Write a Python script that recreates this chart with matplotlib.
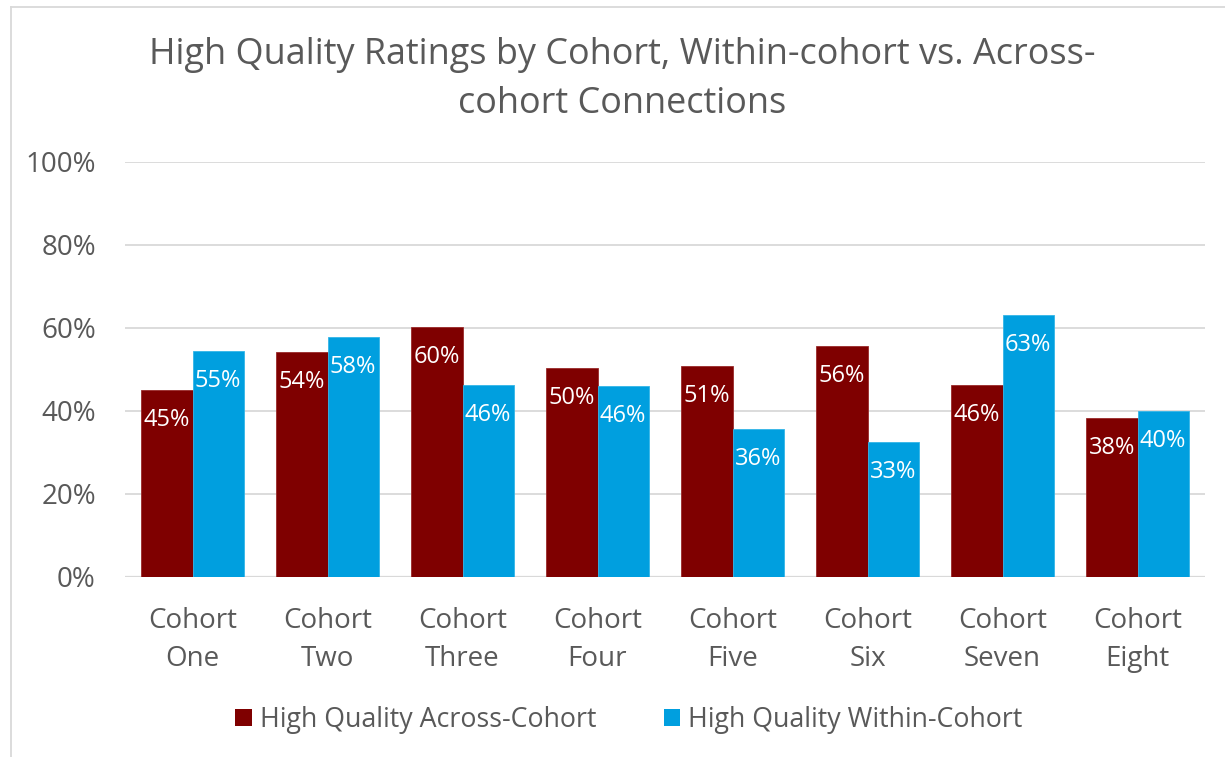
import matplotlib
matplotlib.use("Agg")
import matplotlib.pyplot as plt
from matplotlib.patches import Patch
from matplotlib.lines import Line2D
import numpy as np

plt.rcParams['font.family'] = ['Open Sans', 'DejaVu Sans']

categories = ["Cohort\nOne", "Cohort\nTwo", "Cohort\nThree", "Cohort\nFour",
              "Cohort\nFive", "Cohort\nSix", "Cohort\nSeven", "Cohort\nEight"]
across = [44.9, 54.1, 60.1, 50.3, 50.7, 55.6, 46.2, 38.3]
within = [54.5, 57.9, 46.2, 46.0, 35.6, 32.6, 63.0, 40.0]
across_labels = ["45%", "54%", "60%", "50%", "51%", "56%", "46%", "38%"]
within_labels = ["55%", "58%", "46%", "46%", "36%", "33%", "63%", "40%"]
series_names = ["High Quality Across-Cohort", "High Quality Within-Cohort"]
yticks = [0, 20, 40, 60, 80, 100]
ytick_labels = ["0%", "20%", "40%", "60%", "80%", "100%"]
title_lines = ["High Quality Ratings by Cohort, Within-cohort vs. Across-",
               "cohort Connections"]

RED = "#7F0000"
BLUE = "#009FDF"
GRAY_TXT = "#595959"
GRID = "#D9D9D9"

W, H = 1225, 757
fig = plt.figure(figsize=(W / 100, H / 100), dpi=100)

# chart border (cropped)
fig.add_artist(Line2D([11 / W, 11 / W], [0, 1 - 7 / H], color=GRID, lw=1.3,
                      transform=fig.transFigure))
fig.add_artist(Line2D([11 / W, 1], [1 - 7 / H, 1 - 7 / H], color=GRID, lw=1.3,
                      transform=fig.transFigure))

ax = fig.add_axes([125 / W, 1 - 576.7 / H, 1080 / W, (576.7 - 162) / H])
x = np.arange(len(categories))
bw = 0.378
b1 = ax.bar(x - bw / 2, across, bw, color=RED, edgecolor="#9A2A2A", linewidth=0.6, zorder=3)
b2 = ax.bar(x + bw / 2, within, bw, color=BLUE, edgecolor="#33B5E8", linewidth=0.6, zorder=3)

for bars, labs in ((b1, across_labels), (b2, within_labels)):
    for rect, lab in zip(bars, labs):
        ax.annotate(lab, (rect.get_x() + rect.get_width() / 2, rect.get_height()),
                    xytext=(0, -30), textcoords="offset pixels",
                    ha="center", va="center", color="white", fontsize=17, zorder=4)

ax.set_xlim(-0.5, len(categories) - 0.5)
ax.set_ylim(0, 100)
ax.set_yticks(yticks)
ax.set_yticklabels(ytick_labels)
ax.set_xticks(x)
ax.set_xticklabels(categories, linespacing=1.45)
ax.tick_params(axis="y", length=0, pad=21, labelsize=20, labelcolor=GRAY_TXT)
ax.tick_params(axis="x", length=0, pad=22, labelsize=20, labelcolor=GRAY_TXT)
ax.grid(axis="y", color=GRID, lw=1.3, zorder=0)
for s in ax.spines.values():
    s.set_visible(False)
ax.axhline(0, color=GRID, lw=1.6, zorder=2)

fig.text(622 / W, 1 - 55 / H, title_lines[0], ha="center", va="center",
         fontsize=25.9, color=GRAY_TXT)
fig.text(622 / W, 1 - 104 / H, title_lines[1], ha="center", va="center",
         fontsize=25.9, color=GRAY_TXT)

handles = [Patch(facecolor=RED), Patch(facecolor=BLUE)]
fig.legend(handles, series_names, loc="center", bbox_to_anchor=(629 / W, 1 - 720 / H),
           ncol=2, frameon=False, fontsize=19.3, labelcolor=GRAY_TXT,
           handlelength=0.62, handleheight=0.62, handletextpad=0.3, columnspacing=2.5)

fig.savefig("out.png", dpi=100)
